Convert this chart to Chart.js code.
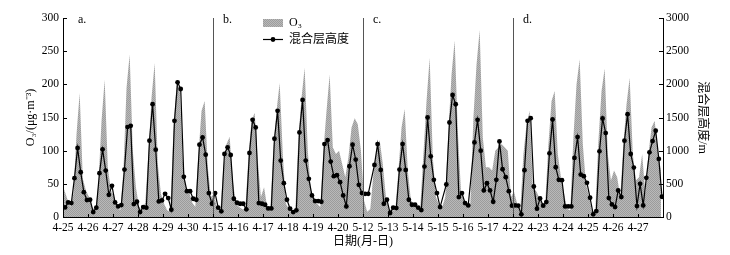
<!DOCTYPE html>
<html>
<head>
<meta charset="utf-8">
<script src="https://cdn.jsdelivr.net/npm/chart.js@4.4.1/dist/chart.umd.min.js"></script>
<style>
  html, body { margin: 0; padding: 0; background: #fff; }
  #wrap { width: 730px; height: 255px; }
</style>
</head>
<body>
<div id="wrap"><canvas id="o3Chart" width="730" height="255"></canvas></div>
<script>
// tick labels, one per day (each panel is 6 days)
const dayLabels = [
  "4-25", "4-26", "4-27", "4-28", "4-29", "4-30",
  "4-15", "4-16", "4-17", "4-18", "4-19", "4-20",
  "5-12", "5-13", "5-14", "5-15", "5-16", "5-17",
  "4-22", "4-23", "4-24", "4-25", "4-26", "4-27",
];
const panelLabels = ["a.", "b.", "c.", "d."];

// sampling hours inside each day
const o3Hours = [1, 4, 7, 10, 13, 16, 19, 22];
const mlhHours = [2, 5, 8, 11, 14, 17, 20, 23];

// O3 (ug/m3), 8 values per day
const o3A = [
  42, 28, 15, 35, 125, 187, 58, 40,
  30, 15, 10, 50, 145, 207, 75, 40,
  30, 15, 10, 70, 195, 245, 100, 45,
  15, 10, 22, 95, 180, 232, 80, 35,
  20, 10, 8, 130, 200, 195, 85, 45,
  38, 22, 15, 95, 160, 175, 75, 30,
];
const o3B = [
  35, 12, 8, 75, 110, 121, 55, 20,
  15, 12, 10, 90, 145, 157, 85, 30,
  45, 15, 10, 105, 160, 202, 95, 20,
  12, 8, 8, 120, 180, 225, 100, 40,
  30, 20, 15, 100, 160, 215, 105, 95,
  100, 80, 60, 90, 135, 149, 140, 100,
];
const o3C = [
  25, 8, 12, 65, 100, 116, 80, 30,
  12, 10, 10, 70, 135, 163, 70, 25,
  20, 15, 15, 95, 175, 240, 90, 30,
  18, 15, 30, 130, 215, 266, 130, 40,
  25, 15, 20, 150, 230, 282, 120, 75,
  75, 70, 100, 105, 110, 105, 100, 30,
];
const o3D = [
  38, 20, 10, 95, 140, 160, 45, 40,
  30, 20, 22, 110, 175, 190, 95, 60,
  35, 12, 10, 120, 200, 238, 110, 50,
  30, 8, 10, 115, 190, 224, 95, 55,
  70, 60, 30, 110, 170, 210, 95, 55,
  60, 95, 35, 95, 135, 145, 100, 70,
];

// mixing layer height (m), 8 values per day, null = no sample
const mlhA = [
  145, 220, 210, 585, 1040, 675, 375, 255,
  260, 75, 140, 660, 1020, 700, 335, 470,
  220, 160, 180, 715, 1355, 1375, 195, 230,
  75, 150, 140, 1150, 1700, 1015, 235, 250,
  350, 285, 110, 1450, 2030, 1930, 605, 390,
  390, 275, 260, 1090, 1200, 940, 360, 200,
];
const mlhB = [
  360, 140, 85, 950, 1050, 935, 275, 215,
  200, 200, 115, 965, 1465, 1350, 210, 200,
  185, 130, 130, 1180, 1600, 850, 510, 260,
  125, 75, 100, 1275, 1765, 850, 575, 325,
  240, 240, 230, 1100, 1160, 835, 615, 630,
  525, 325, 160, 765, 1090, 865, 485, 360,
];
const mlhC = [
  350, 350, null, 785, 1100, 710, 200, 260,
  60, 140, 135, 715, 1100, 710, 260, 185,
  185, 140, 105, 760, 1500, 915, 560, 360,
  150, null, 490, 1425, 1840, 1700, 300, 360,
  210, 175, null, 1125, 1465, 1000, 400, 510,
  400, 230, 560, 1140, 720, 600, 390, 170,
];
const mlhD = [
  175, 170, 40, 705, 1450, 1490, 460, 125,
  280, 170, 225, 960, 1470, 750, 560, 555,
  160, 160, 160, 890, 1205, 640, 615, 515,
  290, 40, 90, 990, 1485, 1265, 285, 190,
  150, 400, 300, 1150, 1550, 950, 745, 165,
  500, 175, 590, 975, 1145, 1300, 875, 305,
];

const o3 = [...o3A, ...o3B, ...o3C, ...o3D];
const mlh = [...mlhA, ...mlhB, ...mlhC, ...mlhD];

// x in hours since start of the first day
const toPoints = (vals, hours) =>
  vals.map((v, i) => ({ x: Math.floor(i / 8) * 24 + hours[i % 8], y: v }));

const ctx = document.getElementById("o3Chart").getContext("2d");

// grey stipple used for the O3 area
const pc = document.createElement("canvas");
pc.width = 2;
pc.height = 2;
const pctx = pc.getContext("2d");
pctx.fillStyle = "#b9b9b9";
pctx.fillRect(0, 0, 2, 2);
pctx.fillStyle = "#9c9c9c";
pctx.fillRect(0, 0, 1, 1);
pctx.fillRect(1, 1, 1, 1);
const o3Fill = ctx.createPattern(pc, "repeat");

const serif = '"Liberation Serif", "Noto Sans CJK SC", serif';
Chart.defaults.font.family = serif;
Chart.defaults.font.size = 11.5;
Chart.defaults.color = "#000";

// panel dividers, panel letters, inward ticks and legend
const decorations = {
  id: "decorations",
  afterDraw(chart) {
    const { ctx, chartArea: a, scales } = chart;
    const x = scales.x;
    ctx.save();
    ctx.lineWidth = 1;

    // dividers between panels
    ctx.strokeStyle = "#555";
    [6, 12, 18].forEach((d) => {
      const px = Math.round(x.getPixelForValue(d * 24)) + 0.5;
      ctx.beginPath();
      ctx.moveTo(px, a.top);
      ctx.lineTo(px, a.bottom);
      ctx.stroke();
    });

    // panel letters
    ctx.fillStyle = "#000";
    ctx.font = "12px " + serif;
    ctx.textBaseline = "middle";
    ctx.textAlign = "left";
    panelLabels.forEach((lab, i) => {
      const px = x.getPixelForValue(i * 6 * 24) + (i === 0 ? 15 : 10);
      ctx.fillText(lab, px, a.top + 2);
    });

    // ticks pointing into the plot
    ctx.strokeStyle = "#000";
    scales.y.ticks.forEach((t) => {
      const py = Math.round(scales.y.getPixelForValue(t.value)) + 0.5;
      ctx.beginPath();
      ctx.moveTo(a.left, py);
      ctx.lineTo(a.left + 4, py);
      ctx.stroke();
    });
    scales.y1.ticks.forEach((t) => {
      const py = Math.round(scales.y1.getPixelForValue(t.value)) + 0.5;
      ctx.beginPath();
      ctx.moveTo(a.right, py);
      ctx.lineTo(a.right - 4, py);
      ctx.stroke();
    });
    x.ticks.forEach((t) => {
      const px = Math.round(x.getPixelForValue(t.value)) + 0.5;
      ctx.beginPath();
      ctx.moveTo(px, a.bottom);
      ctx.lineTo(px, a.bottom - 3);
      ctx.stroke();
    });

    // legend
    ctx.fillStyle = o3Fill;
    ctx.fillRect(263, 19, 20, 8);
    ctx.fillStyle = "#000";
    ctx.fillText("O\u2083", 289, 23);
    ctx.beginPath();
    ctx.moveTo(263, 39.5);
    ctx.lineTo(283, 39.5);
    ctx.lineWidth = 1.2;
    ctx.stroke();
    ctx.beginPath();
    ctx.arc(273, 39.5, 2.4, 0, Math.PI * 2);
    ctx.fill();
    ctx.fillText("混合层高度", 289, 40);
    ctx.restore();
  },
};

new Chart(ctx, {
  type: "line",
  data: {
    datasets: [
      {
        label: "混合层高度",
        data: toPoints(mlh, mlhHours),
        yAxisID: "y1",
        borderColor: "#000",
        backgroundColor: "#000",
        borderWidth: 1.2,
        pointRadius: 2.4,
        pointBorderWidth: 0,
        pointBackgroundColor: "#000",
        spanGaps: true,
        tension: 0,
        fill: false,
        order: 0,
      },
      {
        label: "O\u2083",
        data: toPoints(o3, o3Hours),
        yAxisID: "y",
        borderWidth: 0,
        borderColor: "rgba(0,0,0,0)",
        backgroundColor: o3Fill,
        pointRadius: 0,
        tension: 0,
        fill: "origin",
        order: 1,
      },
    ],
  },
  options: {
    responsive: false,
    animation: false,
    layout: { padding: { top: 18, left: 0, right: 0, bottom: 0 } },
    plugins: {
      legend: { display: false },
      tooltip: { enabled: false },
    },
    scales: {
      x: {
        type: "linear",
        min: 0,
        max: 576,
        afterFit: (s) => { s.height = 38; },
        grid: { display: false, drawTicks: false },
        border: { color: "#000" },
        ticks: {
          stepSize: 24,
          autoSkip: false,
          maxTicksLimit: 30,
          maxRotation: 0,
          padding: 4,
          callback: (v) => dayLabels[v / 24] ?? "",
        },
        title: {
          display: true,
          text: "日期(月-日)",
          font: { size: 12 },
          padding: { top: 0, bottom: 6 },
        },
      },
      y: {
        position: "left",
        min: 0,
        max: 300,
        afterFit: (s) => { s.width = 63; },
        grid: { display: false, drawTicks: false },
        border: { color: "#000" },
        ticks: { stepSize: 50, padding: 4 },
        title: {
          display: true,
          text: "O\u2083/(μg·m\u207B\u00B3)",
          font: { size: 12 },
          padding: { top: 24, bottom: 0 },
        },
      },
      y1: {
        position: "right",
        min: 0,
        max: 3000,
        afterFit: (s) => { s.width = 67; },
        grid: { display: false, drawTicks: false },
        border: { color: "#000" },
        ticks: { stepSize: 500, padding: 3, callback: (v) => String(v) },
        title: {
          display: true,
          text: "混合层高度/m",
          font: { size: 12 },
          padding: { top: 21, bottom: 0 },
        },
      },
    },
  },
  plugins: [decorations],
});
</script>
</body>
</html>
